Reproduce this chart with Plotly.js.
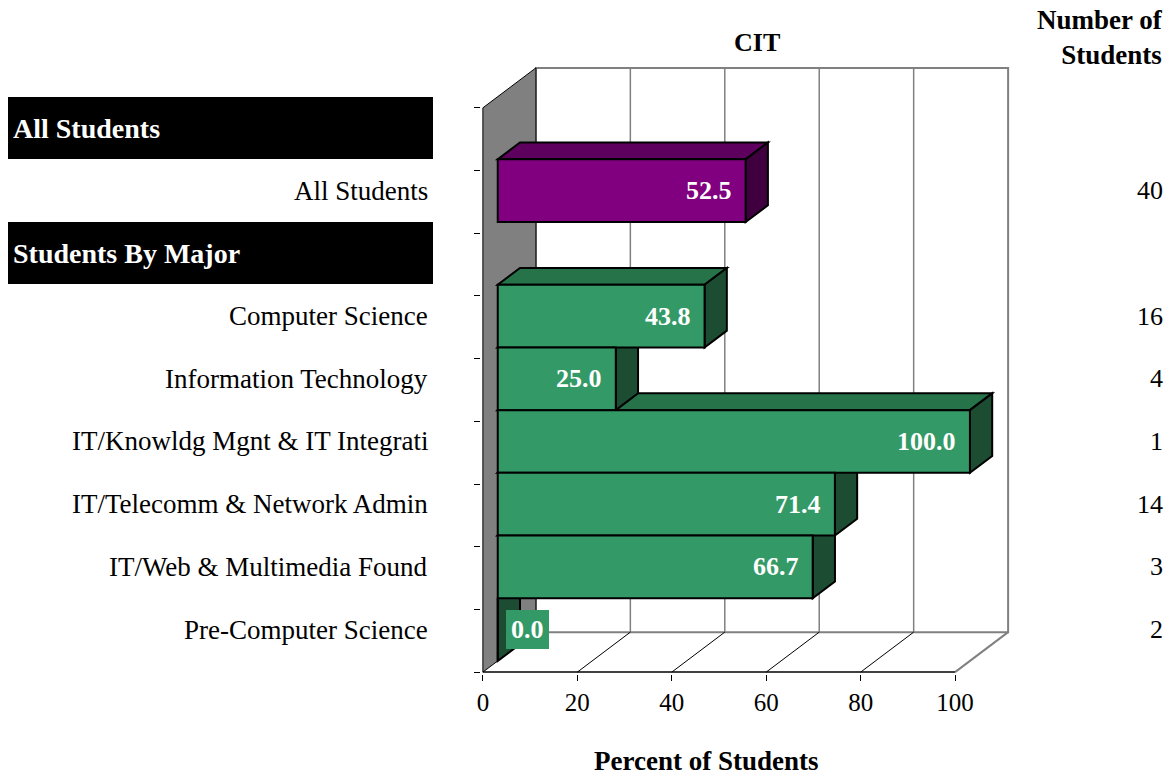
<!DOCTYPE html>
<html><head><meta charset="utf-8">
<script src="https://cdn.plot.ly/plotly-3.0.1.min.js"></script>
<style>html,body{margin:0;padding:0;background:#fff}#chart{width:1170px;height:778px}</style>
</head><body><div id="chart"></div>
<script>
// ---- data ----
const rowLabels = ['All Students','All Students','Students By Major','Computer Science','Information Technology','IT/Knowldg Mgnt & IT Integrati','IT/Telecomm & Network Admin','IT/Web & Multimedia Found','Pre-Computer Science'];
const rowIsHeader = [true,false,true,false,false,false,false,false,false];
const barPercent = [52.5,43.8,25.0,100.0,71.4,66.7,0.0];
const barCount = [40,16,4,1,14,3,2];
const barGroup = ['All','Major','Major','Major','Major','Major','Major'];
const xTicks = [0,20,40,60,80,100];
const chartTitle = 'CIT';
const xTitle = 'Percent of Students';
const countTitle = 'Number of<br>Students';

// ---- styles ----
const FONT = 'Liberation Serif, Times New Roman, serif';
const COLORS = {
  All:   {front:'#800080', top:'#5e005e', side:'#400040'},
  Major: {front:'#339966', top:'#267349', side:'#1c4d33'}
};
const GRAY = '#808080';

// ---- geometry (oblique 3D projection in data units) ----
const W = 1170, H = 778;
const ppx = 4.72, ppy = 62.75;
const KX = 53/ppx, KY = 40/ppy;
const Z0 = 0.28, Z1 = 0.70;
const N = rowLabels.length;
const XMAX = 100;
const padX = 0.4, padY = 0.03;
const xr = [-padX, XMAX + KX + padX];
const yTopData = -0.5 - KY - padY, yBotData = N - 0.5 + padY;
const frontTopPix = 107.5;
const l = 483 - padX*ppx;
const plotW = (xr[1]-xr[0])*ppx;
const r = W - l - plotW;
const t = frontTopPix - (KY + padY)*ppy;
const plotH = (yBotData - yTopData)*ppy;
const b = H - t - plotH;
const paperX = px => (px - l)/plotW;
const paperY = py => 1 - (py - t)/plotH;

const P = (x,y,z) => [x + KX*z, y - KY*z];
const path = pts => 'M' + pts.map(p => p[0].toFixed(4)+','+p[1].toFixed(4)).join(' L') + ' Z';
const seg = (a,c,color,width) => ({type:'line', xref:'x', yref:'y', layer:'below',
  x0:a[0], y0:a[1], x1:c[0], y1:c[1], line:{color:color, width:width}});

const yF0 = -0.5, yF1 = N - 0.5;
const shapes = [];
// back wall
shapes.push({type:'path', xref:'x', yref:'y', layer:'below',
  path: path([P(0,yF0,1),P(XMAX,yF0,1),P(XMAX,yF1,1),P(0,yF1,1)]),
  fillcolor:'#ffffff', line:{color:GRAY, width:2}});
// gridlines on back wall and floor
xTicks.forEach(v => {
  if (v > 0 && v < XMAX) {
    shapes.push(seg(P(v,yF0,1), P(v,yF1,1), GRAY, 1.5));
    shapes.push(seg(P(v,yF1,0), P(v,yF1,1), '#000000', 1));
  }
});
shapes.push(seg(P(XMAX,yF1,0), P(XMAX,yF1,1), GRAY, 2));
// left wall
shapes.push({type:'path', xref:'x', yref:'y', layer:'below',
  path: path([P(0,yF0,0),P(0,yF0,1),P(0,yF1,1),P(0,yF1,0)]),
  fillcolor:GRAY, line:{color:'#000000', width:1}});
// front floor edge
shapes.push(seg(P(0,yF1,0), P(XMAX,yF1,0), '#000000', 1.5));

// bars: rows that are not headers
const barRows = [];
rowIsHeader.forEach((h,i) => { if (!h) barRows.push(i); });

// top faces
barRows.forEach((row,k) => {
  const v = barPercent[k], c = COLORS[barGroup[k]];
  shapes.push({type:'path', xref:'x', yref:'y', layer:'below',
    path: path([P(0,row-0.5,Z0),P(v,row-0.5,Z0),P(v,row-0.5,Z1),P(0,row-0.5,Z1)]),
    fillcolor:c.top, line:{color:'#000000', width:2}});
});
// side faces
barRows.forEach((row,k) => {
  const v = barPercent[k], c = COLORS[barGroup[k]];
  shapes.push({type:'path', xref:'x', yref:'y', layer:'below',
    path: path([P(v,row-0.5,Z0),P(v,row-0.5,Z1),P(v,row+0.5,Z1),P(v,row+0.5,Z0)]),
    fillcolor:c.side, line:{color:'#000000', width:2}});
});

// front faces via bar trace
const trace = {
  type:'bar', orientation:'h',
  x: barPercent,
  y: barRows.map(row => row - KY*Z0),
  base: barPercent.map(() => KX*Z0),
  width: 1,
  marker:{color: barGroup.map(g => COLORS[g].front), line:{color:'#000000', width:2}},
  hoverinfo:'skip', textposition:'none', showlegend:false
};

const annotations = [];
rowLabels.forEach((lab,i) => {
  const yc = i - KY*Z0;
  if (rowIsHeader[i]) {
    annotations.push({xref:'paper', yref:'y', x:paperX(433), y:yc, xanchor:'right', yanchor:'middle',
      text:'<b>'+lab+'</b>', showarrow:false, bgcolor:'#000000', borderwidth:0, borderpad:5,
      width:415, height:52, align:'left', valign:'middle',
      font:{family:FONT, size:28, color:'#ffffff'}});
  } else {
    annotations.push({xref:'paper', yref:'y', x:paperX(430), y:yc, xanchor:'right', yanchor:'middle',
      text:lab, showarrow:false, font:{family:FONT, size:27, color:'#000000'}});
  }
});
barRows.forEach((row,k) => {
  const yc = row - KY*Z0, v = barPercent[k];
  annotations.push({xref:'paper', yref:'y', x:paperX(1165), y:yc, xanchor:'right', yanchor:'middle',
    text:String(barCount[k]), showarrow:false, font:{family:FONT, size:26, color:'#000000'}});
  const lbl = {xref:'x', yref:'y', y:yc, yanchor:'middle', showarrow:false,
    text:'<b>'+v.toFixed(1)+'</b>', font:{family:FONT, size:26, color:'#ffffff'}};
  if (v > 0) { lbl.x = v + KX*Z0; lbl.xanchor = 'right'; lbl.xshift = -12; }
  else { lbl.x = KX*Z0; lbl.xanchor = 'left'; lbl.xshift = 8; lbl.bgcolor = COLORS[barGroup[k]].front; lbl.borderpad = 5; lbl.borderwidth = 0; }
  annotations.push(lbl);
});
annotations.push({xref:'paper', yref:'paper', x:paperX(1165), y:paperY(37), xanchor:'right', yanchor:'middle',
  align:'right', text:'<b>'+countTitle.replace('<br>','</b><br><b>')+'</b>', showarrow:false,
  font:{family:FONT, size:27, color:'#000000'}});
annotations.push({xref:'paper', yref:'paper', x:paperX(706), y:paperY(761), xanchor:'center', yanchor:'middle',
  text:'<b>'+xTitle+'</b>', showarrow:false, font:{family:FONT, size:27, color:'#000000'}});
annotations.push({xref:'paper', yref:'paper', x:paperX(757), y:paperY(42), xanchor:'center', yanchor:'middle',
  text:'<b>'+chartTitle+'</b>', showarrow:false, font:{family:FONT, size:26, color:'#000000'}});

const yTickVals = [];
for (let i = 0; i <= N; i++) yTickVals.push(i - 0.5);

const layout = {
  width:W, height:H,
  margin:{l:l, r:r, t:t, b:b, pad:0},
  paper_bgcolor:'#ffffff', plot_bgcolor:'rgba(0,0,0,0)',
  showlegend:false, barmode:'overlay',
  xaxis:{range:xr, tickvals:xTicks, ticktext:xTicks.map(String), ticks:'outside', ticklen:6,
    tickcolor:'#000000', tickwidth:1, showgrid:false, zeroline:false, showline:false,
    tickfont:{family:FONT, size:25, color:'#000000'}, fixedrange:true},
  yaxis:{range:[yBotData, yTopData], tickvals:yTickVals, ticks:'outside', ticklen:6,
    tickcolor:'#000000', tickwidth:1, showticklabels:false, showgrid:false, zeroline:false,
    showline:false, fixedrange:true},
  shapes:shapes, annotations:annotations
};
Plotly.newPlot('chart', [trace], layout, {displayModeBar:false, staticPlot:true});
</script>
</body></html>
